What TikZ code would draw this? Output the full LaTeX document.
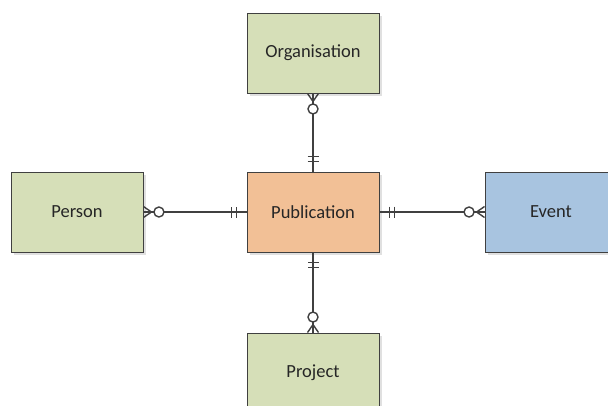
\documentclass[tikz,border=0pt]{standalone}
\usepackage{fontspec}
\setmainfont{Carlito}
\usetikzlibrary{positioning,shadows}

\definecolor{entgreen}{RGB}{214,223,184}
\definecolor{entorange}{RGB}{242,192,150}
\definecolor{entblue}{RGB}{168,196,224}
\definecolor{linegray}{RGB}{64,64,64}

\tikzset{
  entity/.style={draw=linegray, line width=0.9pt, minimum width=132pt, minimum height=80pt,
    inner sep=0pt, font=\fontsize{18.5}{22}\selectfont, text=black!85,
    drop shadow={shadow xshift=3pt, shadow yshift=-3pt, fill=black!12, opacity=1}},
  rel/.style={draw=linegray, line width=1.4pt},
  zeromany/.pic={
    \draw[rel] (0,-5.5) -- (8,0) -- (0,5.5);
    \draw[rel] (0,0) -- (8,0);
    \draw[rel, fill=white] (15.5,0) circle (5pt);},
  onlyone/.pic={
    \draw[rel] (10,-5.5) -- (10,5.5);
    \draw[rel] (15,-5.5) -- (15,5.5);}
}

\begin{document}
\begin{tikzpicture}[x=1pt, y=-1pt]
\useasboundingbox (0,0) rectangle (608,405);

\node[entity, fill=entorange] (P) at (313,212) {Publication};
\node[entity, fill=entgreen] (O) at (313,53) {Organisation};
\node[entity, fill=entgreen] (R) at (77,212) {Person};
\node[entity, fill=entblue] (E) at (551,212) {Event};
\node[entity, fill=entgreen] (J) at (313,373) {Project};

\draw[rel] (O) -- (P);
\draw[rel] (R) -- (P);
\draw[rel] (P) -- (E);
\draw[rel] (P) -- (J);

% crow's feet
\pic[rotate=-90] at (O.south) {zeromany};
\pic[rotate=90] at (P.north) {onlyone};
\pic at (R.east) {zeromany};
\pic[rotate=180] at (P.west) {onlyone};
\pic at (P.east) {onlyone};
\pic[rotate=180] at (E.west) {zeromany};
\pic[rotate=-90] at (P.south) {onlyone};
\pic[rotate=90] at (J.north) {zeromany};

\end{tikzpicture}
\end{document}
